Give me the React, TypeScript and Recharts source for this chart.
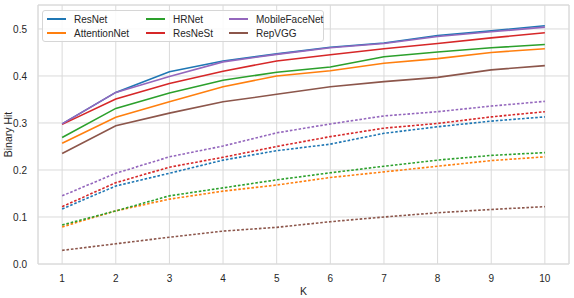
import { LineChart, Line, XAxis, YAxis, CartesianGrid, ReferenceArea } from 'recharts'

const ks = [1, 2, 3, 4, 5, 6, 7, 8, 9, 10]
const yTicks = [0, 0.1, 0.2, 0.3, 0.4, 0.5]

// solid lines (upper group)
const resnet = [0.298, 0.365, 0.409, 0.432, 0.447, 0.461, 0.47, 0.486, 0.496, 0.507]
const attention = [0.257, 0.312, 0.345, 0.377, 0.4, 0.411, 0.427, 0.437, 0.45, 0.458]
const hrnet = [0.269, 0.331, 0.364, 0.391, 0.408, 0.419, 0.441, 0.451, 0.46, 0.467]
const resnest = [0.297, 0.351, 0.384, 0.41, 0.432, 0.445, 0.458, 0.469, 0.481, 0.492]
const mobile = [0.298, 0.365, 0.399, 0.43, 0.446, 0.46, 0.469, 0.484, 0.494, 0.504]
const repvgg = [0.235, 0.294, 0.321, 0.345, 0.361, 0.377, 0.388, 0.397, 0.413, 0.422]

// dotted lines (lower group)
const resnetLo = [0.117, 0.166, 0.193, 0.221, 0.241, 0.255, 0.278, 0.292, 0.304, 0.313]
const attentionLo = [0.079, 0.113, 0.138, 0.155, 0.168, 0.184, 0.196, 0.208, 0.22, 0.228]
const hrnetLo = [0.083, 0.113, 0.145, 0.162, 0.179, 0.194, 0.208, 0.221, 0.231, 0.237]
const resnestLo = [0.122, 0.173, 0.206, 0.227, 0.25, 0.271, 0.289, 0.299, 0.313, 0.324]
const mobileLo = [0.145, 0.193, 0.228, 0.251, 0.279, 0.298, 0.315, 0.324, 0.336, 0.346]
const repvggLo = [0.029, 0.043, 0.057, 0.07, 0.078, 0.09, 0.1, 0.109, 0.116, 0.122]

const series = [
  { name: 'ResNet', color: '#1f77b4', hi: resnet, lo: resnetLo },
  { name: 'AttentionNet', color: '#ff7f0e', hi: attention, lo: attentionLo },
  { name: 'HRNet', color: '#2ca02c', hi: hrnet, lo: hrnetLo },
  { name: 'ResNeSt', color: '#d62728', hi: resnest, lo: resnestLo },
  { name: 'MobileFaceNet', color: '#9467bd', hi: mobile, lo: mobileLo },
  { name: 'RepVGG', color: '#8c564b', hi: repvgg, lo: repvggLo },
]

const data = ks.map((k, i) => {
  const row: Record<string, number> = { k }
  series.forEach((s) => {
    row[s.name] = s.hi[i]
    row[s.name + '_lo'] = s.lo[i]
  })
  return row
})

const font = '"Liberation Sans", Arial, sans-serif'
const tickStyle = { fill: '#262626', fontSize: 10, fontFamily: font }
const grid = '#dadada'

function LegendBox() {
  // matplotlib ncol=3 fills column by column
  const cols = [series.slice(0, 2), series.slice(2, 4), series.slice(4, 6)]
  const colX = [4, 103, 186]
  return (
    <div
      style={{
        position: 'absolute',
        left: 42,
        top: 10,
        width: 280,
        height: 30,
        border: '1px solid #d6d6d6',
        borderRadius: 3,
        background: 'rgba(255,255,255,0.85)',
        fontFamily: font,
        fontSize: 10,
        color: '#262626',
      }}
    >
      {cols.map((col, ci) =>
        col.map((s, ri) => (
          <div
            key={s.name}
            style={{
              position: 'absolute',
              left: colX[ci],
              top: 1 + ri * 14,
              height: 14,
              display: 'flex',
              alignItems: 'center',
              whiteSpace: 'nowrap',
            }}
          >
            <span style={{ display: 'inline-block', width: 19, height: 1.8, background: s.color, marginRight: 8 }} />
            {s.name}
          </div>
        ))
      )}
    </div>
  )
}

export default function App() {
  return (
    <div style={{ position: 'absolute', left: 0, top: 0, width: 574, height: 298, background: '#fff' }}>
      <LineChart width={574} height={298} data={data} margin={{ top: 5, right: 5, bottom: 0, left: 0 }}>
        <CartesianGrid stroke={grid} strokeWidth={1} />
        <ReferenceArea x1={0.55} x2={10.45} y1={0} y2={0.551} fill="none" stroke={grid} strokeWidth={1} ifOverflow="extendDomain" />
        <XAxis
          dataKey="k"
          type="number"
          domain={[0.55, 10.45]}
          ticks={ks}
          allowDataOverflow
          height={34}
          tickLine={false}
          axisLine={false}
          tick={tickStyle}
          tickMargin={5}
          label={{ value: 'K', position: 'insideBottom', offset: 3, fill: '#262626', fontSize: 10.5, fontFamily: font }}
        />
        <YAxis
          type="number"
          domain={[0, 0.551]}
          ticks={yTicks}
          allowDataOverflow
          width={38}
          tickLine={false}
          axisLine={false}
          tick={tickStyle}
          tickMargin={5}
          tickFormatter={(v: number) => v.toFixed(1)}
          label={{ value: 'Binary Hit', angle: -90, position: 'insideLeft', offset: 8, fill: '#262626', fontSize: 10.5, fontFamily: font, style: { textAnchor: 'middle' } }}
        />
        {series.map((s) => (
          <Line
            key={s.name}
            dataKey={s.name}
            stroke={s.color}
            strokeWidth={1.6}
            dot={false}
            isAnimationActive={false}
          />
        ))}
        {series.map((s) => (
          <Line
            key={s.name + '_lo'}
            dataKey={s.name + '_lo'}
            stroke={s.color}
            strokeWidth={1.6}
            strokeDasharray="2.6 1.8"
            dot={false}
            isAnimationActive={false}
          />
        ))}
      </LineChart>
      <LegendBox />
    </div>
  )
}
